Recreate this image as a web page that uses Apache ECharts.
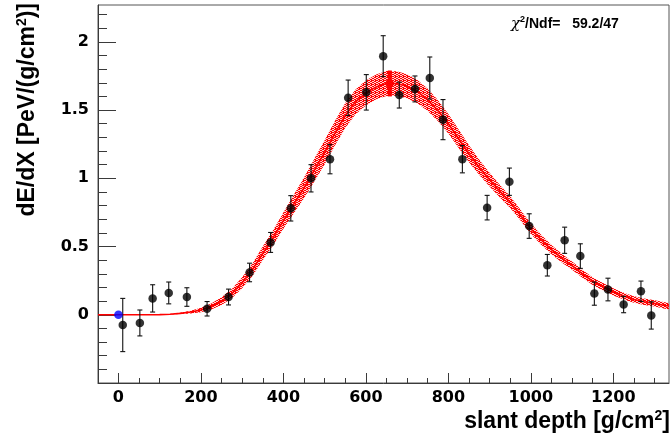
<!DOCTYPE html>
<html><head><meta charset="utf-8">
<script src="https://cdn.jsdelivr.net/npm/echarts@6/dist/echarts.min.js"></script>
<style>html,body{margin:0;padding:0;background:#fff}#c{width:671px;height:448px}</style>
</head><body><div id="c"></div>
<script>
// ---- data ----
const depth   = [10.5, 52, 83, 122, 166, 215, 267, 318, 369, 418, 467, 513, 557, 601, 642, 681, 719, 755, 787, 834, 894, 948, 996, 1040, 1082, 1120, 1154, 1187, 1225, 1267, 1292];
const dEdX    = [-0.075, -0.06, 0.12, 0.16, 0.13, 0.044, 0.13, 0.31, 0.53, 0.78, 1.0, 1.14, 1.59, 1.63, 1.895, 1.61, 1.655, 1.735, 1.43, 1.14, 0.785, 0.975, 0.65, 0.363, 0.546, 0.43, 0.155, 0.185, 0.075, 0.172, -0.005];
const dEdXErr = [0.195, 0.095, 0.10, 0.08, 0.068, 0.053, 0.058, 0.068, 0.073, 0.093, 0.10, 0.107, 0.13, 0.13, 0.15, 0.095, 0.095, 0.154, 0.147, 0.10, 0.09, 0.10, 0.09, 0.079, 0.096, 0.09, 0.085, 0.083, 0.06, 0.075, 0.10];

const curveDepth = [-50, 0, 25, 50, 75, 100, 125, 150, 175, 200, 225, 250, 275, 300, 325, 350, 375, 400, 425, 450, 475, 500, 525, 550, 575, 600, 625, 650, 675, 700, 725, 750, 775, 800, 825, 850, 875, 900, 925, 950, 975, 1000, 1025, 1050, 1075, 1100, 1125, 1150, 1175, 1200, 1225, 1250, 1275, 1300, 1325, 1350];
const curveVal   = [0, 0, 0, 0, 0, 0.001, 0.004, 0.01, 0.02, 0.035, 0.06, 0.10, 0.155, 0.235, 0.33, 0.45, 0.565, 0.69, 0.81, 0.93, 1.06, 1.19, 1.33, 1.46, 1.56, 1.625, 1.67, 1.695, 1.695, 1.675, 1.635, 1.575, 1.495, 1.40, 1.29, 1.18, 1.08, 0.99, 0.905, 0.825, 0.73, 0.63, 0.55, 0.478, 0.415, 0.36, 0.30, 0.246, 0.205, 0.168, 0.137, 0.112, 0.096, 0.083, 0.068, 0.058];
const bandHalf   = [0, 0, 0, 0, 0, 0, 0.002, 0.005, 0.01, 0.016, 0.022, 0.028, 0.034, 0.04, 0.045, 0.05, 0.055, 0.06, 0.068, 0.076, 0.083, 0.088, 0.09, 0.091, 0.091, 0.091, 0.091, 0.091, 0.09, 0.088, 0.085, 0.081, 0.077, 0.072, 0.067, 0.062, 0.056, 0.05, 0.046, 0.043, 0.04, 0.038, 0.036, 0.034, 0.032, 0.03, 0.029, 0.028, 0.027, 0.026, 0.025, 0.024, 0.024, 0.023, 0.023, 0.023];

const originPoint = [0, 0];
const xmaxPoint = [658, 1.695];
const xmaxErrY = 0.095;
const xmaxErrX = 10;

const xMajorTicks = [0, 200, 400, 600, 800, 1000, 1200];
const xMinorTicks = [50, 100, 150, 250, 300, 350, 450, 500, 550, 650, 700, 750, 850, 900, 950, 1050, 1100, 1150, 1250, 1300];
const yMajorTicks = [0, 0.5, 1, 1.5, 2];
const yMinorTicks = [-0.4, -0.3, -0.2, -0.1, 0.1, 0.2, 0.3, 0.4, 0.6, 0.7, 0.8, 0.9, 1.1, 1.2, 1.3, 1.4, 1.6, 1.7, 1.8, 1.9, 2.1, 2.2];

const xTitle = 'slant depth [g/cm{s|2}]';
const yTitle = 'dE/dX [PeV/(g/cm{s|2})]';
const chi2Value = '59.2/47';

// ---- chart ----
const X_MIN = -49.5, X_MAX = 1335, Y_MIN = -0.5, Y_MAX = 2.27;

const pc = document.createElement('canvas'); pc.width = 4; pc.height = 4;
const g = pc.getContext('2d');
g.fillStyle = 'rgba(255,110,110,0.3)'; g.fillRect(0, 0, 4, 4);
g.fillStyle = '#ff0000';
[[0,0],[1,0],[2,1],[3,1],[0,2],[1,2],[2,3],[3,3],[3,0]].forEach(p => g.fillRect(p[0], p[1], 1, 1));

const curveData = curveDepth.map((d, i) => [d, curveVal[i], bandHalf[i]]);
const ptsData  = depth.map((d, i) => [d, dEdX[i], dEdXErr[i]]);

const axisCol = '#3a3a3a';
const tickFont = {fontFamily: 'DejaVu Sans', fontWeight: 'bold', fontSize: 16, color: '#000', formatter: v => String(v)};

const chart = echarts.init(document.getElementById('c'), null, {renderer: 'canvas'});
chart.setOption({
  animation: false,
  backgroundColor: '#fff',
  grid: {left: 98, top: 5, right: 2, bottom: 65, show: true, borderColor: '#555', borderWidth: 1, containLabel: false},
  xAxis: [
    {type: 'value', min: X_MIN, max: X_MAX, position: 'bottom',
     axisLine: {show: true, onZero: false, lineStyle: {color: axisCol, width: 1}},
     axisTick: {show: true, inside: true, length: 10, customValues: xMajorTicks, lineStyle: {color: axisCol}},
     axisLabel: {show: true, customValues: xMajorTicks, margin: 7, ...tickFont},
     splitLine: {show: false}},
    {type: 'value', min: X_MIN, max: X_MAX, position: 'bottom',
     axisLine: {show: false, onZero: false},
     axisTick: {show: true, inside: true, length: 5, customValues: xMinorTicks, lineStyle: {color: axisCol}},
     axisLabel: {show: false}, splitLine: {show: false}}
  ],
  yAxis: [
    {type: 'value', min: Y_MIN, max: Y_MAX, position: 'left',
     axisLine: {show: true, onZero: false, lineStyle: {color: axisCol, width: 1}},
     axisTick: {show: true, inside: true, length: 18, customValues: yMajorTicks, lineStyle: {color: axisCol}},
     axisLabel: {show: true, customValues: yMajorTicks, margin: 9, ...tickFont},
     splitLine: {show: false}},
    {type: 'value', min: Y_MIN, max: Y_MAX, position: 'left',
     axisLine: {show: false, onZero: false},
     axisTick: {show: true, inside: true, length: 9, customValues: yMinorTicks, lineStyle: {color: axisCol}},
     axisLabel: {show: false}, splitLine: {show: false}}
  ],
  series: [
    // fit error band + central fit line
    {type: 'custom', data: [curveData[0]], z: 1, clip: true, silent: true,
     encode: {x: 0, y: 1},
     renderItem: function (params, api) {
       const up = curveData.map(p => api.coord([p[0], p[1] + p[2]]));
       const lo = curveData.map(p => api.coord([p[0], p[1] - p[2]])).reverse();
       const mid = curveData.map(p => api.coord([p[0], p[1]]));
       return {type: 'group', children: [
         {type: 'polygon', shape: {points: up.concat(lo)}, style: {fill: {image: pc, repeat: 'repeat'}}},
         {type: 'polyline', shape: {points: mid}, style: {stroke: '#ff0000', lineWidth: 1.6, fill: null}}
       ]};
     }},
    {type: 'custom', data: [[xmaxPoint[0], xmaxPoint[1], xmaxErrY, xmaxErrX]], z: 3, clip: true, silent: true,
     encode: {x: 0, y: 1},
     renderItem: function (params, api) {
       const x = api.value(0), y = api.value(1), ey = api.value(2), ex = api.value(3);
       const t = api.coord([x, y + ey]), b = api.coord([x, y - ey]);
       const l = api.coord([x - ex, y]), r = api.coord([x + ex, y]);
       const c = api.coord([x, y]);
       return {type: 'group', children: [
         {type: 'line', shape: {x1: t[0], y1: t[1], x2: b[0], y2: b[1]}, style: {stroke: '#ff0000', lineWidth: 4}},
         {type: 'line', shape: {x1: l[0], y1: l[1], x2: r[0], y2: r[1]}, style: {stroke: '#ff0000', lineWidth: 2}},
         {type: 'rect', shape: {x: c[0] - 3.5, y: c[1] - 3.5, width: 7, height: 7}, style: {fill: '#ff0000'}}
       ]};
     }},
    {type: 'custom', data: ptsData, z: 4, clip: true, silent: true, encode: {x: 0, y: 1},
     renderItem: function (params, api) {
       const x = api.value(0), y = api.value(1), e = api.value(2);
       const t = api.coord([x, y + e]), b = api.coord([x, y - e]);
       const w = 2.5, st = {stroke: '#111', lineWidth: 1.1};
       return {type: 'group', children: [
         {type: 'line', shape: {x1: t[0], y1: t[1], x2: b[0], y2: b[1]}, style: st},
         {type: 'line', shape: {x1: t[0] - w, y1: t[1], x2: t[0] + w, y2: t[1]}, style: st},
         {type: 'line', shape: {x1: b[0] - w, y1: b[1], x2: b[0] + w, y2: b[1]}, style: st}
       ]};
     }},
    {type: 'scatter', data: ptsData.map(p => [p[0], p[1]]), symbol: 'circle', symbolSize: 8.5,
     itemStyle: {color: '#000'}, z: 5, silent: true},
    {type: 'scatter', data: [originPoint], symbol: 'circle', symbolSize: 8.5,
     itemStyle: {color: '#0000ff'}, z: 5, silent: true}
  ],
  graphic: [
    {type: 'text', x: 670, y: 422, z: 100, silent: true,
     style: {text: xTitle, align: 'right', verticalAlign: 'middle', fill: '#000',
       fontFamily: 'Liberation Sans', fontWeight: 'bold', fontSize: 23, lineHeight: 26,
       rich: {s: {fontFamily: 'Liberation Sans', fontWeight: 'bold', fontSize: 14, verticalAlign: 'top', lineHeight: 14}}}},
    {type: 'text', x: 28, y: 3, rotation: Math.PI / 2, z: 100, silent: true,
     style: {text: yTitle, align: 'right', verticalAlign: 'middle', fill: '#000',
       fontFamily: 'Liberation Sans', fontWeight: 'bold', fontSize: 23, lineHeight: 26,
       rich: {s: {fontFamily: 'Liberation Sans', fontWeight: 'bold', fontSize: 14, verticalAlign: 'top', lineHeight: 14}}}},
    {type: 'text', x: 511, y: 24, z: 100, silent: true,
     style: {text: '{c|\u03C7}{s|2}/Ndf=   ' + chi2Value, align: 'left', verticalAlign: 'middle', fill: '#000',
       fontFamily: 'Liberation Sans', fontWeight: 'bold', fontSize: 14, lineHeight: 17,
       rich: {c: {fontFamily: 'DejaVu Serif', fontStyle: 'italic', fontSize: 15, lineHeight: 17},
              s: {fontFamily: 'Liberation Sans', fontWeight: 'bold', fontSize: 9, verticalAlign: 'top', lineHeight: 9}}}}
  ]
});
</script></body></html>
